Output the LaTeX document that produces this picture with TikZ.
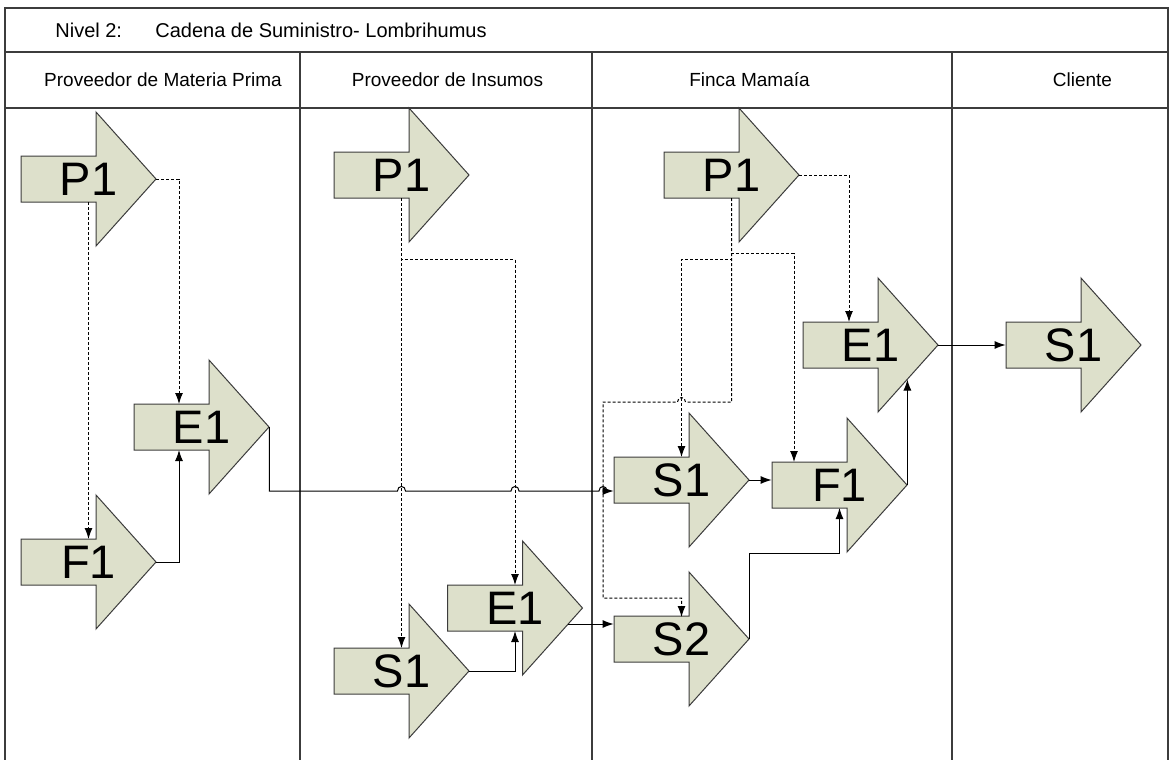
\documentclass[tikz,border=0pt]{standalone}
\usepackage{fontspec}
\setmainfont{Liberation Sans}
\usetikzlibrary{calc,arrows.meta}
\definecolor{relleno}{RGB}{221,224,203}
\definecolor{borde}{RGB}{60,60,60}
\tikzset{forma/.style={fill=relleno,draw=borde,line width=0.5pt},
etiq/.style={inner sep=0pt,minimum width=67.5pt,minimum height=67pt,font=\fontsize{23.5}{24}\selectfont},
flujo/.style={line width=0.5pt,-{Latex[length=5.5pt,width=4pt]}},
punt/.style={flujo,dash pattern=on 1.5pt off 1pt}}
\tikzset{carril/.style={draw=borde,line width=0.8pt},
cab/.style={inner sep=0pt,font=\fontsize{9.5}{11}\selectfont},
tit/.style={inner sep=0pt,anchor=west,font=\fontsize{10}{12}\selectfont}}
\newcommand{\flecha}[4]{%
\draw[forma] (#2-67.5,#3-23) -- (#2+7.5,#3-23) -- (#2+7.5,#3-67) -- (#2+67.5,#3)
 -- (#2+7.5,#3+67) -- (#2+7.5,#3+23) -- (#2-67.5,#3+23) -- cycle;
\node[etiq] (#1) at (#2,#3) {#4};}

\begin{document}
\begin{tikzpicture}[x=0.5pt,y=-0.5pt]
\useasboundingbox (0,0) rectangle (1169,760);
% carriles
\draw[carril] (5,760) -- (5,8) -- (1168,8) -- (1168,760);
\draw[carril] (5,52) -- (1168,52) (5,108) -- (1168,108);
\draw[carril] (300,52) -- (300,760) (592,52) -- (592,760) (952,52) -- (952,760);
\node[tit] (niv) at (55,30) {Nivel 2:};
\node[tit] (cad) at (155,30) {Cadena de Suministro- Lombrihumus};
\node[cab] (mp) at (163,80) {Proveedor de Materia Prima};
\node[cab] (in) at (447.5,80) {Proveedor de Insumos};
\node[cab] (fm) at (749.5,80) {Finca Mamaía};
\node[cab] (cl) at (1082.5,80) {Cliente};
% flechas
\flecha{mpP}{88.5}{179}{P1}
\flecha{mpE}{201.5}{427}{E1}
\flecha{mpF}{88.5}{562}{F1}
\flecha{inP}{401.5}{175}{P1}
\flecha{inE}{515}{608}{E1}
\flecha{inS}{401.5}{671}{S1}
\flecha{fmP}{731.5}{175}{P1}
\flecha{fmE}{870.5}{345}{E1}
\flecha{fmS1}{681.5}{480}{S1}
\flecha{fmF}{839.5}{485}{F1}
\flecha{fmS2}{681.5}{639}{S2}
\flecha{clS}{1073.5}{345}{S1}
% materia prima
\draw[punt] (mpP.east) -| ($(mpE)+(-22.5,-23)$);
\draw[punt] ($(mpP)+(0,23)$) -- ($(mpF)+(0,-23)$);
\draw[flujo] (mpF.east) -| ($(mpE)+(-22.5,23)$);
\draw[flujo] (mpE.east) |- (397.5,491) .. controls (397.5,485) and (405.5,485) .. (405.5,491)
 -- (511,491) .. controls (511,485) and (519,485) .. (519,491)
 -- (599,491) .. controls (599,485) and (607,485) .. (607,491) -- ($(fmS1.west)+(0,11)$);
% insumos
\draw[punt] ($(inP)+(0,23)$) -- ($(inS)+(0,-23)$);
\draw[punt] ($(inP)+(0,23)$) -- ++(0,61.5) -| ($(inE)+(0,-23)$);
\draw[flujo] (inS.east) -| ($(inE)+(0,23)$);
\draw[flujo] ($(inE.east)+(-14.5,16)$) -- ($(fmS2.west)+(0,-15)$);
% finca
\draw[punt] (fmP.east) -| ($(fmE)+(-21.5,-23)$);
\draw[punt] ($(fmP)+(0,23)$) -- ++(0,55.5) -| ($(fmF)+(-45.5,-23)$);
\draw[punt] ($(fmP)+(0,23)$) -- ++(0,61) -| ($(fmS1)+(0,-23)$);
\draw[punt] ($(fmP)+(0,23)$) |- (685.5,402) .. controls (685.5,396) and (677.5,396) .. (677.5,402)
 -- (603,402) -- (603,598) -| ($(fmS2)+(0,-22)$);
\draw[flujo] (fmS1.east) -- (fmS1.east -| fmF.west);
\draw[flujo] (fmS2.east) -- ++(0,-86) -| ($(fmF)+(0,23)$);
\draw[flujo] (fmF.east) -- ($(fmE.east)+(-31,34.5)$);
\draw[flujo] (fmE.east) -- (clS.west);
\end{tikzpicture}
\end{document}
